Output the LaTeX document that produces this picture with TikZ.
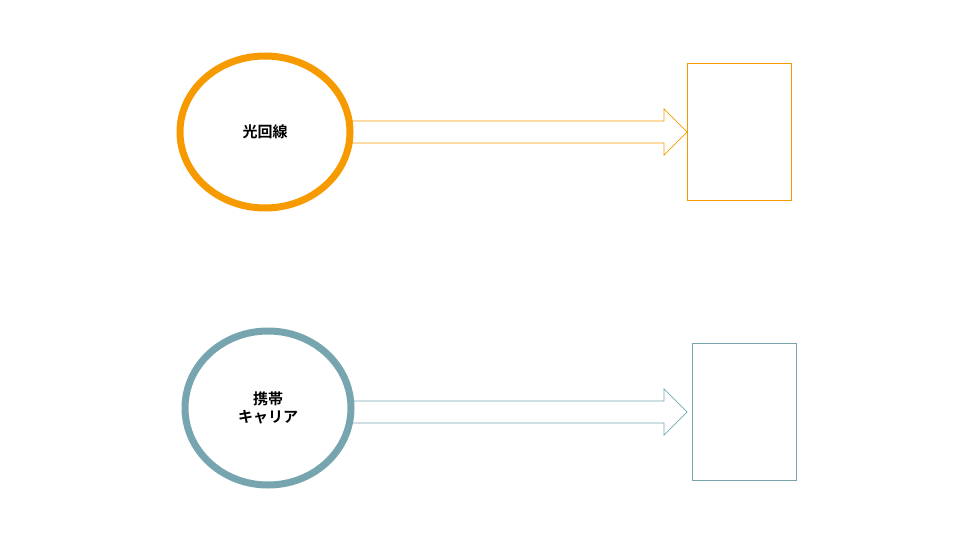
\documentclass[tikz,border=0pt]{standalone}
\usepackage{fontspec}
\newfontfamily\cjk{Noto Sans CJK JP}[BoldFont={Noto Sans CJK JP Bold}]
\definecolor{org}{HTML}{F79A00}
\definecolor{teal}{HTML}{76A5AF}
\begin{document}
\begin{tikzpicture}[x=1pt,y=-1pt,
  lbl/.style={font=\cjk\bfseries\fontsize{15}{18}\selectfont,align=center},
  box/.style={draw=#1,line width=0.7pt}]
\useasboundingbox (0,0) rectangle (960,540);
\draw[org,line width=7pt] (265,132) ellipse [x radius=85, y radius=76];
\node[lbl] (a) at (265,132) {光回線};
\draw[org,line width=0.7pt] (352,121) -- (664,121) -- (664,109) -- (687,132) -- (664,155) -- (664,143) -- (352,143);
\node[box=org,minimum width=104pt,minimum height=137pt,inner sep=0pt] (ra) at (739,131.5) {};
\draw[teal,line width=7pt] (268,408) ellipse [x radius=83, y radius=77];
\node[lbl] (b) at (268,408) {携帯\\キャリア};
\draw[teal,line width=0.7pt] (352,401) -- (664,401) -- (664,389) -- (687,412) -- (664,435) -- (664,423) -- (352,423);
\node[box=teal,minimum width=104pt,minimum height=137pt,inner sep=0pt] (rb) at (744,411.5) {};
\end{tikzpicture}
\end{document}
